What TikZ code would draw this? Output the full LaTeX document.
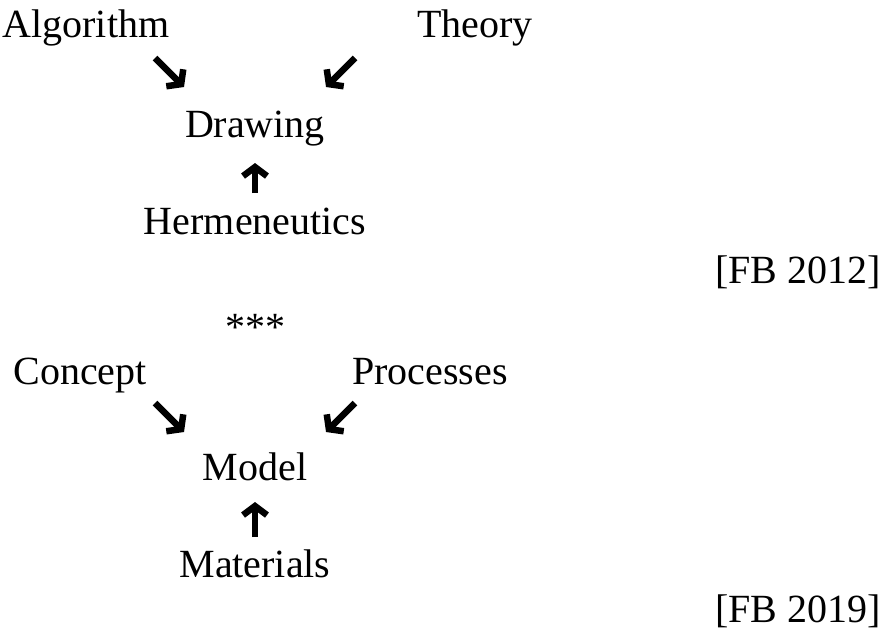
\documentclass[tikz,border=0pt]{standalone}
\usepackage{fontspec}
\setmainfont{Liberation Serif}
\usetikzlibrary{arrows.meta}
\begin{document}
\begin{tikzpicture}[x=1pt,y=-1pt,
  lbl/.style={font=\fontsize{40}{46}\selectfont, inner sep=0pt, anchor=base},
  fat/.style={line width=6.5pt, -{Straight Barb[length=9pt,width=24pt,line width=6.5pt, line join=miter]}}]
\useasboundingbox (0,0) rectangle (888,638);
\node[lbl] (alg) at (86,37) {Algorithm};
\node[lbl] (the) at (475,37) {Theory};
\node[lbl] (drw) at (255,137) {Drawing};
\node[lbl] (her) at (255,234) {Hermeneutics};
\node[lbl, anchor=base east] (fb1) at (881,283) {[FB 2012]};
\node[lbl] (st) at (255,340) {***};
\node[lbl] (con) at (80,384) {Concept};
\node[lbl] (pro) at (430,384) {Processes};
\node[lbl] (mod) at (255,480) {Model};
\node[lbl] (mat) at (255,577) {Materials};
\node[lbl, anchor=base east] (fb2) at (881,622) {[FB 2019]};
\coordinate (a1) at (155,58); \coordinate (b1) at (184,87);
\coordinate (a2) at (355,58); \coordinate (b2) at (326,87);
\coordinate (a3) at (255,193); \coordinate (b3) at (255,163);
\coordinate (a4) at (155,403); \coordinate (b4) at (184,432);
\coordinate (a5) at (355,403); \coordinate (b5) at (326,432);
\coordinate (a6) at (255,537); \coordinate (b6) at (255,502);
\foreach \i in {1,...,6} \draw[fat] (a\i) -- (b\i);
\end{tikzpicture}
\end{document}
